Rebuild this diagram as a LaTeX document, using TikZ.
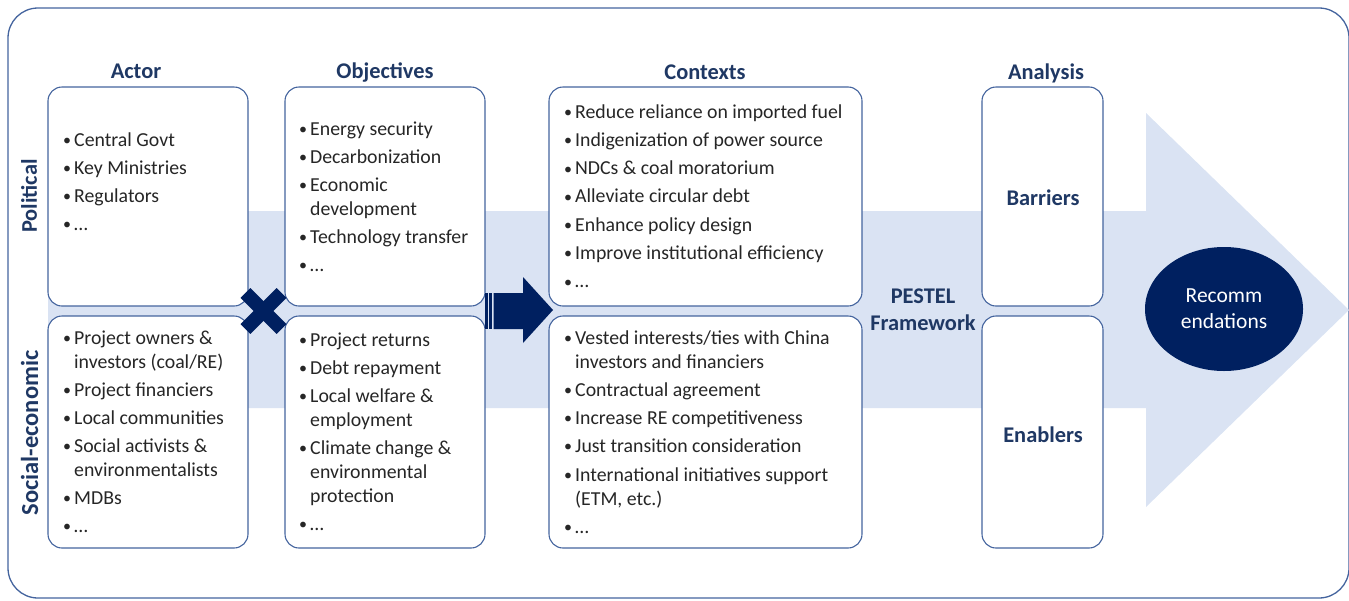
\documentclass[tikz,border=0pt]{standalone}
\usepackage{fontspec}
\setmainfont{Carlito}
\usetikzlibrary{shapes.geometric}
\definecolor{navy}{HTML}{002060}
\definecolor{headblue}{HTML}{1F3864}
\definecolor{edgeblue}{HTML}{44649E}
\definecolor{paleblue}{HTML}{DAE3F3}
\newcommand{\bul}{\makebox[12pt][l]{\hspace{1pt}\raisebox{0.6pt}{\fontsize{16}{16}\selectfont\textbullet}}}
\newcommand{\cnt}{\hspace*{12pt}}
\tikzset{
  x=1pt, y=-1pt,
  panel/.style={draw=edgeblue, line width=1.1pt, fill=white, rounded corners=14pt},
  frame/.style={draw=edgeblue, line width=1.3pt, rounded corners=30pt},
  head/.style={font=\fontsize{22.4}{26}\selectfont\bfseries, text=headblue, inner sep=0pt},
  sidelabel/.style={font=\fontsize{22.4}{26}\selectfont\bfseries, text=headblue, rotate=90, inner sep=0pt},
  tag/.style={font=\fontsize{22.4}{27}\selectfont\bfseries, text=headblue, inner sep=0pt, align=center},
  list/.style={anchor=base west, inner sep=0pt, font=\fontsize{19.8}{24}\selectfont, text=black!85}
}
\begin{document}
\begin{tikzpicture}
\useasboundingbox (0,0) rectangle (1349,600);

% outer frame
\draw[frame] (8,8) rectangle (1349,598);

% large background arrow
\fill[paleblue] (48,211) -- (1146,211) -- (1146,113) -- (1349,310)
  -- (1146,507) -- (1146,408) -- (48,408) -- cycle;

% column headers
\node[head] (hActor) at (136,71) {Actor};
\node[head] (hObj) at (385,73) {Objectives};
\node[head] (hCtx) at (705,72) {Contexts};
\node[head] (hAna) at (1046,73) {Analysis};

% row labels
\node[sidelabel] (lPol) at (29,196) {Political};
\node[sidelabel, font=\fontsize{24.5}{28}\selectfont\bfseries] (lSoc) at (29.5,433) {Social-economic};

% panels
\draw[panel] (48,87) rectangle (248,306);
\draw[panel] (48,316) rectangle (248,548);
\draw[panel] (285,87) rectangle (485,306);
\draw[panel] (285,316) rectangle (485,548);
\draw[panel] (549,87) rectangle (862,306);
\draw[panel] (549,316) rectangle (862,548);
\draw[panel] (982,87) rectangle (1103,306);
\draw[panel] (982,316) rectangle (1103,548);

% actor lists
\node[list] (actPol) at (62,146) {\begin{tabular}[t]{@{}l@{}}
\bul Central Govt\\[4pt]
\bul Key Ministries\\[4pt]
\bul Regulators\\[4pt]
\bul \dots
\end{tabular}};
\node[list] (actSoc) at (62,344) {\begin{tabular}[t]{@{}l@{}}
\bul Project owners \&\\
\cnt investors (coal/RE)\\[4pt]
\bul Project financiers\\[4pt]
\bul Local communities\\[4pt]
\bul Social activists \&\\
\cnt environmentalists\\[4pt]
\bul MDBs\\[4pt]
\bul \dots
\end{tabular}};

% objective lists
\node[list] (objPol) at (298,135) {\begin{tabular}[t]{@{}l@{}}
\bul Energy security\\[4pt]
\bul Decarbonization\\[4pt]
\bul Economic\\
\cnt development\\[4.5pt]
\bul Technology transfer\\[4pt]
\bul \dots
\end{tabular}};
\node[list] (objSoc) at (298,346) {\begin{tabular}[t]{@{}l@{}}
\bul Project returns\\[4pt]
\bul Debt repayment\\[4pt]
\bul Local welfare \&\\
\cnt employment\\[4.5pt]
\bul Climate change \&\\
\cnt environmental\\
\cnt protection\\[4pt]
\bul \dots
\end{tabular}};

% context lists
\node[list] (ctxPol) at (563,118) {\begin{tabular}[t]{@{}l@{}}
\bul Reduce reliance on imported fuel\\[4.3pt]
\bul Indigenization of power source\\[4.3pt]
\bul NDCs \& coal moratorium\\[4.3pt]
\bul Alleviate circular debt\\[4.3pt]
\bul Enhance policy design\\[4.3pt]
\bul Improve institutional efficiency\\[4.3pt]
\bul \dots
\end{tabular}};
\node[list] (ctxSoc) at (563,344) {\begin{tabular}[t]{@{}l@{}}
\bul Vested interests/ties with China\\
\cnt investors and financiers\\[4pt]
\bul Contractual agreement\\[4pt]
\bul Increase RE competitiveness\\[4.5pt]
\bul Just transition consideration\\[4.5pt]
\bul International initiatives support\\
\cnt (ETM, etc.)\\[4.5pt]
\bul \dots
\end{tabular}};

% analysis labels
\node[tag] (barriers) at (1043,198) {Barriers};
\node[tag] (enablers) at (1043,435) {Enablers};
\node[tag] (pestel) at (923,310) {PESTEL\\Framework};

% cross between actor and objectives
\begin{scope}[shift={(263.5,311)}]
  \fill[navy, rotate=45] (-25.5,-7) rectangle (25.5,7);
  \fill[navy, rotate=-45] (-25.5,-7) rectangle (25.5,7);
\end{scope}

% striped arrow towards contexts
\fill[navy] (485,293) rectangle (487.6,329);
\fill[navy] (489.4,293) rectangle (492,329);
\fill[navy] (493.6,293) -- (523,293) -- (523,277) -- (553,310)
  -- (523,343) -- (523,329) -- (493.6,329) -- cycle;

% recommendations
\node[ellipse, fill=navy, minimum width=158pt, minimum height=124pt, inner sep=0pt,
  text=white, font=\fontsize{21.5}{26}\selectfont, align=center] (rec) at (1224,309)
  {Recomm\\endations};
\end{tikzpicture}
\end{document}
